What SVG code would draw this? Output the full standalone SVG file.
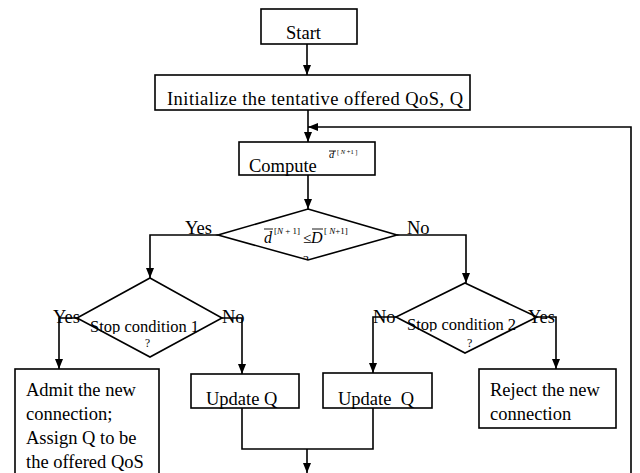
<svg xmlns="http://www.w3.org/2000/svg" width="640" height="473" viewBox="0 0 640 473">
  <style>
    .box { fill: #fff; stroke: #000; stroke-width: 1.6; }
    .line { fill: none; stroke: #000; stroke-width: 1.6; }
    .t { font-family: "Liberation Serif", "Times New Roman", serif; font-size: 18.5px; fill: #000; }
    .s { font-family: "Liberation Serif", "Times New Roman", serif; font-size: 16.5px; fill: #000; }
    .m { font-family: "Liberation Serif", "Times New Roman", serif; fill: #000; }
    .bar { stroke: #000; stroke-width: 0.9; }
  </style>
  <defs>
    <marker id="arrow" markerWidth="10" markerHeight="8" refX="10" refY="4" orient="auto" markerUnits="userSpaceOnUse">
      <path d="M0,0 L10,4 L0,8 z" fill="#000"/>
    </marker>
    <clipPath id="clip-c1"><rect x="60" y="300" width="180" height="34"/></clipPath>
    <clipPath id="clip-c2"><rect x="380" y="300" width="180" height="31.5"/></clipPath>
    <clipPath id="clip-q"><rect x="280" y="245" width="60" height="15"/></clipPath>
  </defs>

  <!-- connectors -->
  <g id="connectors">
    <line class="line" x1="307" y1="44" x2="307" y2="75" marker-end="url(#arrow)"/>
    <line class="line" x1="308" y1="110" x2="308" y2="142" marker-end="url(#arrow)"/>
    <polyline class="line" points="631,473 631,127 308,127" marker-end="url(#arrow)"/>
    <line class="line" x1="308" y1="175" x2="308" y2="209" marker-end="url(#arrow)"/>
    <polyline class="line" points="218,235 150,235 150,278" marker-end="url(#arrow)"/>
    <polyline class="line" points="397,235 466,235 466,283" marker-end="url(#arrow)"/>
    <polyline class="line" points="77,318 59,318 59,369" marker-end="url(#arrow)"/>
    <polyline class="line" points="222,318 242,318 242,374" marker-end="url(#arrow)"/>
    <polyline class="line" points="396,317 373,317 373,373" marker-end="url(#arrow)"/>
    <polyline class="line" points="537,317 556,317 556,369" marker-end="url(#arrow)"/>
    <polyline class="line" points="242,408 242,449 373,449 373,408"/>
    <line class="line" x1="307" y1="449" x2="307" y2="473" marker-end="url(#arrow)"/>
  </g>

  <g id="start">
    <rect class="box" x="261" y="9" width="96" height="35"/>
    <text class="t" x="286" y="39">Start</text>
  </g>

  <g id="initialize">
    <rect class="box" x="155" y="75" width="315" height="35"/>
    <text class="t" x="167" y="105" textLength="296" lengthAdjust="spacing">Initialize the tentative offered QoS, Q</text>
  </g>

  <g id="compute">
    <rect class="box" x="239" y="142" width="136" height="33"/>
    <text class="t" x="249" y="172">Compute</text>
    <text class="m" x="329" y="158" font-size="10.5" font-style="italic">d</text>
    <line class="bar" x1="329" y1="151" x2="336" y2="151"/>
    <text class="m" x="337" y="154" font-size="6.5" xml:space="preserve">[ <tspan font-style="italic">N</tspan> +1 ]</text>
  </g>

  <g id="check-delay">
    <polygon class="box" points="308,209 397,235 308,260 218,235"/>
    <text class="m" x="264" y="243" font-size="16" font-style="italic">d</text>
    <line class="bar" x1="264" y1="229" x2="273" y2="229"/>
    <text class="m" x="274" y="234" font-size="9">[<tspan font-style="italic">N</tspan> + 1]</text>
    <text class="m" x="303" y="243" font-size="15">≤</text>
    <text class="m" x="311" y="243" font-size="16" font-style="italic">D</text>
    <line class="bar" x1="312" y1="229" x2="323" y2="229"/>
    <text class="m" x="324" y="234" font-size="9" xml:space="preserve">[ <tspan font-style="italic">N</tspan>+1]</text>
    <text class="m" x="303" y="264" font-size="13" clip-path="url(#clip-q)">?</text>
    <text class="t" x="185" y="234">Yes</text>
    <text class="t" x="407" y="234">No</text>
  </g>

  <g id="stop-condition-1">
    <polygon class="box" points="150,278 222,318 150,357 77,318"/>
    <text class="s" x="90" y="332" clip-path="url(#clip-c1)">Stop condition 1</text>
    <text class="m" x="145" y="347" font-size="11.5">?</text>
    <text class="t" x="53" y="323">Yes</text>
    <text class="t" x="222" y="323">No</text>
  </g>

  <g id="stop-condition-2">
    <polygon class="box" points="465,283 537,317 465,353 396,317"/>
    <text class="s" x="407" y="330" clip-path="url(#clip-c2)">Stop condition 2</text>
    <text class="m" x="467" y="347" font-size="12">?</text>
    <text class="t" x="373" y="323">No</text>
    <text class="t" x="528" y="323">Yes</text>
  </g>

  <g id="admit">
    <rect class="box" x="15" y="369" width="144" height="110"/>
    <text class="t" x="26" y="396">Admit the new</text>
    <text class="t" x="26" y="420">connection;</text>
    <text class="t" x="26" y="444">Assign Q to be</text>
    <text class="t" x="26" y="468">the offered QoS</text>
  </g>

  <g id="update-q-1">
    <rect class="box" x="191" y="374" width="108" height="34"/>
    <text class="t" x="206" y="405">Update Q</text>
  </g>

  <g id="update-q-2">
    <rect class="box" x="323" y="373" width="109" height="35"/>
    <text class="t" x="338" y="405" xml:space="preserve">Update  Q</text>
  </g>

  <g id="reject">
    <rect class="box" x="479" y="369" width="137" height="59"/>
    <text class="t" x="490" y="396">Reject the new</text>
    <text class="t" x="490" y="420">connection</text>
  </g>
</svg>
